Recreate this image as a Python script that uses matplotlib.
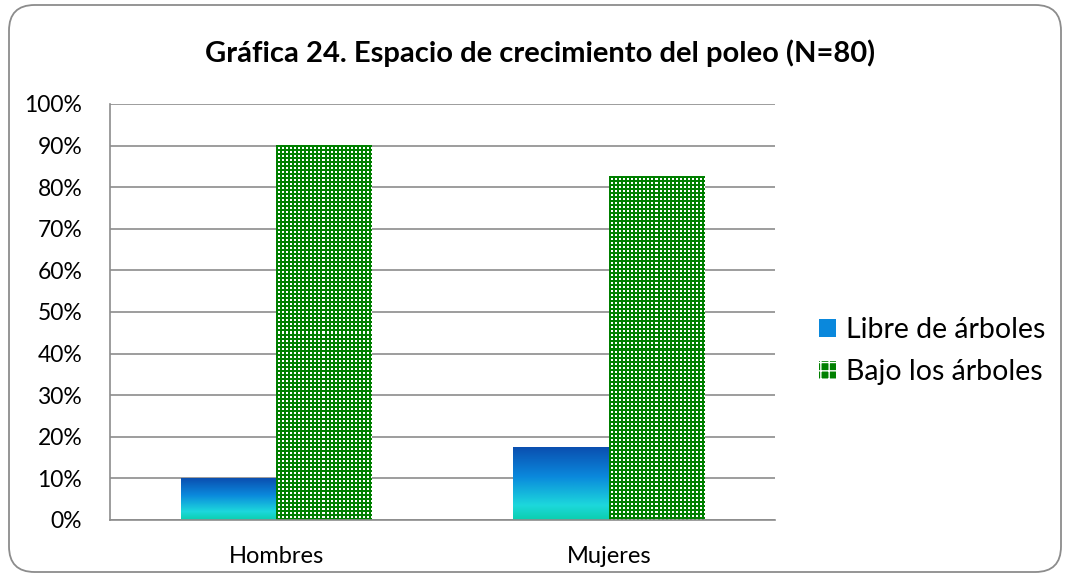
import numpy as np
import matplotlib
matplotlib.use('Agg')
import matplotlib.pyplot as plt
from matplotlib.patches import FancyBboxPatch, Patch
from matplotlib.colors import LinearSegmentedColormap

plt.rcParams['font.family'] = ['Lato', 'DejaVu Sans']

categories = ['Hombres', 'Mujeres']
series = ['Libre de árboles', 'Bajo los árboles']
libre = [10.0, 17.5]
bajo = [90.0, 82.5]
yticks = [0, 10, 20, 30, 40, 50, 60, 70, 80, 90, 100]
title = 'Gráfica 24. Espacio de crecimiento del poleo (N=80)'

W, H, DPI = 1067, 582, 100
fig = plt.figure(figsize=(W / DPI, H / DPI), dpi=DPI)
ax = fig.add_axes([110 / W, 1 - 520 / H, 665 / W, 416 / H])

# rounded frame around the chart
fig.patches.append(FancyBboxPatch((9 / W, 10 / H), 1052 / W, 567 / H,
                                  boxstyle='round,pad=0,rounding_size=0.024',
                                  transform=fig.transFigure, facecolor='none',
                                  edgecolor='#8c8c8c', lw=1.3, mutation_aspect=W / H))

x = np.arange(len(categories))
bw = 0.287
ax.set_xlim(-0.5, len(categories) - 0.5)
ax.set_ylim(0, 100)

grad = LinearSegmentedColormap.from_list('g', [(0, '#0b4fb0'), (0.4, '#0a88dc'),
                                                (0.8, '#1dd8dc'), (1, '#0ccfae')])


def px_size(x0, x1, y0, y1):
    p0 = ax.transData.transform((x0, y0))
    p1 = ax.transData.transform((x1, y1))
    return max(int(round(abs(p1[0] - p0[0]))), 1), max(int(round(abs(p1[1] - p0[1]))), 1)


for i in x:
    # gradient bar
    x0, x1 = i - bw, i
    ax.bar(i - bw / 2, libre[i], bw, color='none', zorder=2)
    g = np.linspace(0, 1, 200).reshape(-1, 1)
    ax.imshow(g, cmap=grad, aspect='auto', extent=(x0, x1, 0, libre[i]),
              origin='upper', zorder=2, interpolation='bilinear')
    # patterned bar (green with small white squares)
    x0, x1 = i, i + bw
    w, h = px_size(x0, x1, 0, bajo[i])
    img = np.ones((h, w, 3))
    img[:, :] = (0, 0.5, 0)
    yy, xx = np.mgrid[0:h, 0:w]
    white = ((yy % 4) >= 2) & ((xx % 4) >= 2)
    img[white] = (1, 1, 1)
    ax.imshow(img, aspect='auto', extent=(x0, x1, 0, bajo[i]),
              origin='upper', zorder=2, interpolation='nearest')

ax.set_xlim(-0.5, len(categories) - 0.5)
ax.set_ylim(0, 100)
ax.set_yticks(yticks)
ax.set_yticklabels([f'{v}%' for v in yticks], fontsize=16.5)
ax.set_xticks(x)
ax.set_xticklabels(categories, fontsize=17)
ax.tick_params(length=0)
ax.tick_params(axis='y', pad=20)
ax.tick_params(axis='x', pad=19)
ax.yaxis.grid(True, color='#8c8c8c', lw=1.2)
ax.set_axisbelow(True)
for s in ['top', 'right']:
    ax.spines[s].set_visible(False)
for s in ['left', 'bottom']:
    ax.spines[s].set_color('#8c8c8c')
    ax.spines[s].set_linewidth(1.2)

fig.text(540 / W, 1 - 53 / H, title, ha='center', va='center',
         fontsize=21, fontweight='bold')

handles = [Patch(facecolor='#0a88dc', edgecolor='none'),
           Patch(facecolor='#008000', edgecolor='white', hatch='++', lw=0)]
fig.legend(handles, series, loc='center left', bbox_to_anchor=(793 / W, 1 - 351 / H),
           frameon=False, fontsize=20.5, handlelength=0.6, handleheight=0.6,
           handletextpad=0.35, labelspacing=0.55, borderpad=0.4)

fig.savefig('out.png', dpi=DPI)
